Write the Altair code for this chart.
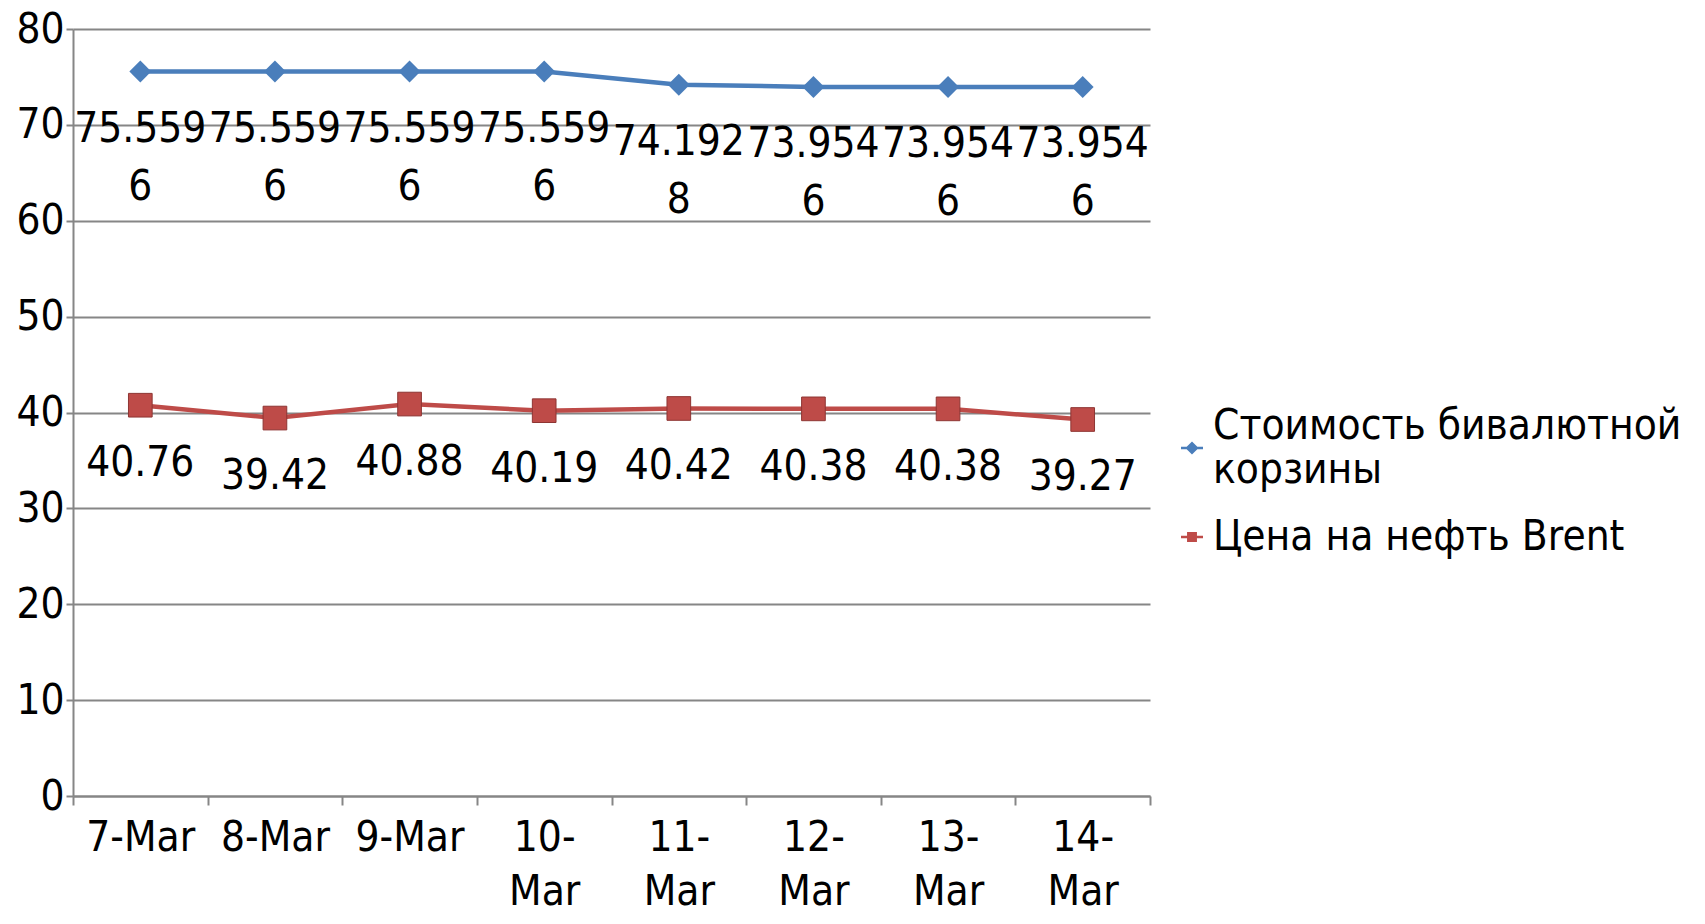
import altair as alt
import pandas as pd

dates = ["7-Mar", "8-Mar", "9-Mar", "10-Mar", "11-Mar", "12-Mar", "13-Mar", "14-Mar"]
basket = [75.5596, 75.5596, 75.5596, 75.5596, 74.1928, 73.9546, 73.9546, 73.9546]
brent = [40.76, 39.42, 40.88, 40.19, 40.42, 40.38, 40.38, 39.27]
series_names = ["Стоимость бивалютной корзины", "Цена на нефть Brent"]
colors = ["#4A7EBB", "#BE4B48"]
y_ticks = list(range(0, 81, 10))

FONT = "DejaVu Sans Condensed"
FS = 42
GRID = "#868686"

df = pd.DataFrame({
    "date": dates * 2,
    "series": [series_names[0]] * len(dates) + [series_names[1]] * len(dates),
    "value": basket + brent,
})

x = alt.X(
    "date:N", sort=dates, bandPosition=0.5,
    scale=alt.Scale(type="band", paddingInner=0, paddingOuter=0),
    axis=alt.Axis(
        title=None, labelAngle=0, grid=False, tickBand="extent",
        labelExpr="length(datum.label) > 5 ? [slice(datum.label, 0, 3), slice(datum.label, 3)] : datum.label",
        labelLineHeight=54, labelPadding=12, tickSize=9,
        labelFont=FONT, labelFontSize=FS, labelColor="#000",
        domainColor=GRID, domainWidth=2, tickColor=GRID, tickWidth=2,
    ),
)
y = alt.Y(
    "value:Q",
    scale=alt.Scale(domain=[0, 80], nice=False),
    axis=alt.Axis(
        title=None, values=y_ticks, grid=True, gridColor=GRID, gridWidth=2,
        domainColor=GRID, domainWidth=2, tickColor=GRID, tickWidth=2, tickSize=7,
        labelPadding=2, labelFont=FONT, labelFontSize=FS, labelColor="#000",
    ),
)
color_scale = alt.Scale(domain=series_names, range=colors)

base = alt.Chart(df)
blue = base.transform_filter(alt.datum.series == series_names[0])
red = base.transform_filter(alt.datum.series == series_names[1])

line_blue = blue.mark_line(strokeWidth=4.5, color=colors[0]).encode(x=x, y=y)
line_red = red.mark_line(strokeWidth=4.5, color=colors[1]).encode(x=x, y=y)

pts_blue = blue.mark_point(
    filled=True, shape="diamond", size=480, opacity=1, color=colors[0]
).encode(x=x, y=y)
pts_red = red.mark_point(
    filled=True, shape="square", size=560, opacity=1, color=colors[1],
    stroke="#8E3533", strokeWidth=1
).encode(x=x, y=y)

txt_blue = blue.transform_calculate(
    lbl="slice(toString(datum.value), 0, 6) + '|' + slice(toString(datum.value), 6)"
).mark_text(
    font=FONT, fontSize=FS, color="#000", baseline="middle", align="center",
    lineBreak="|", lineHeight=58, dy=57,
).encode(x=x, y=y, text="lbl:N")

txt_red = red.transform_calculate(
    lbl="toString(datum.value)"
).mark_text(
    font=FONT, fontSize=FS, color="#000", baseline="middle", align="center", dy=58,
).encode(x=x, y=y, text="lbl:N")

# legend glyphs: short line with marker (blue one sits between its two label lines)
sym_paths = [
    "M-1,1.88H1V2.12H-1Z M0,1.4L0.6,2L0,2.6L-0.6,2Z",
    "M-1,-0.12H1V0.12H-1Z M-0.45,-0.45H0.45V0.45H-0.45Z",
]
leg = alt.Legend(
    title=None, orient="none", legendX=1098, legendY=376,
    labelFont=FONT, labelFontSize=FS, labelColor="#000", labelLimit=800,
    labelOffset=0, symbolSize=484, symbolOpacity=1, symbolStrokeWidth=0,
    rowPadding=25,
    labelExpr="datum.label == '" + series_names[0] + "' ? ['Стоимость бивалютной', 'корзины'] : datum.label",
)
legend_layer = base.mark_point(filled=True, opacity=0, size=1).encode(
    x=x, y=y,
    color=alt.Color("series:N", scale=color_scale, legend=leg),
    shape=alt.Shape("series:N", scale=alt.Scale(domain=series_names, range=sym_paths), legend=leg),
)

chart = alt.layer(
    line_blue, line_red, pts_blue, pts_red, txt_blue, txt_red, legend_layer
).properties(
    width=1077, height=767,
    autosize=alt.AutoSizeParams(type="none"),
    padding={"left": 65, "top": 21, "right": 547, "bottom": 120},
).configure_view(stroke=None)

chart.save("out.html", embed_options={"renderer": "svg", "actions": False})
